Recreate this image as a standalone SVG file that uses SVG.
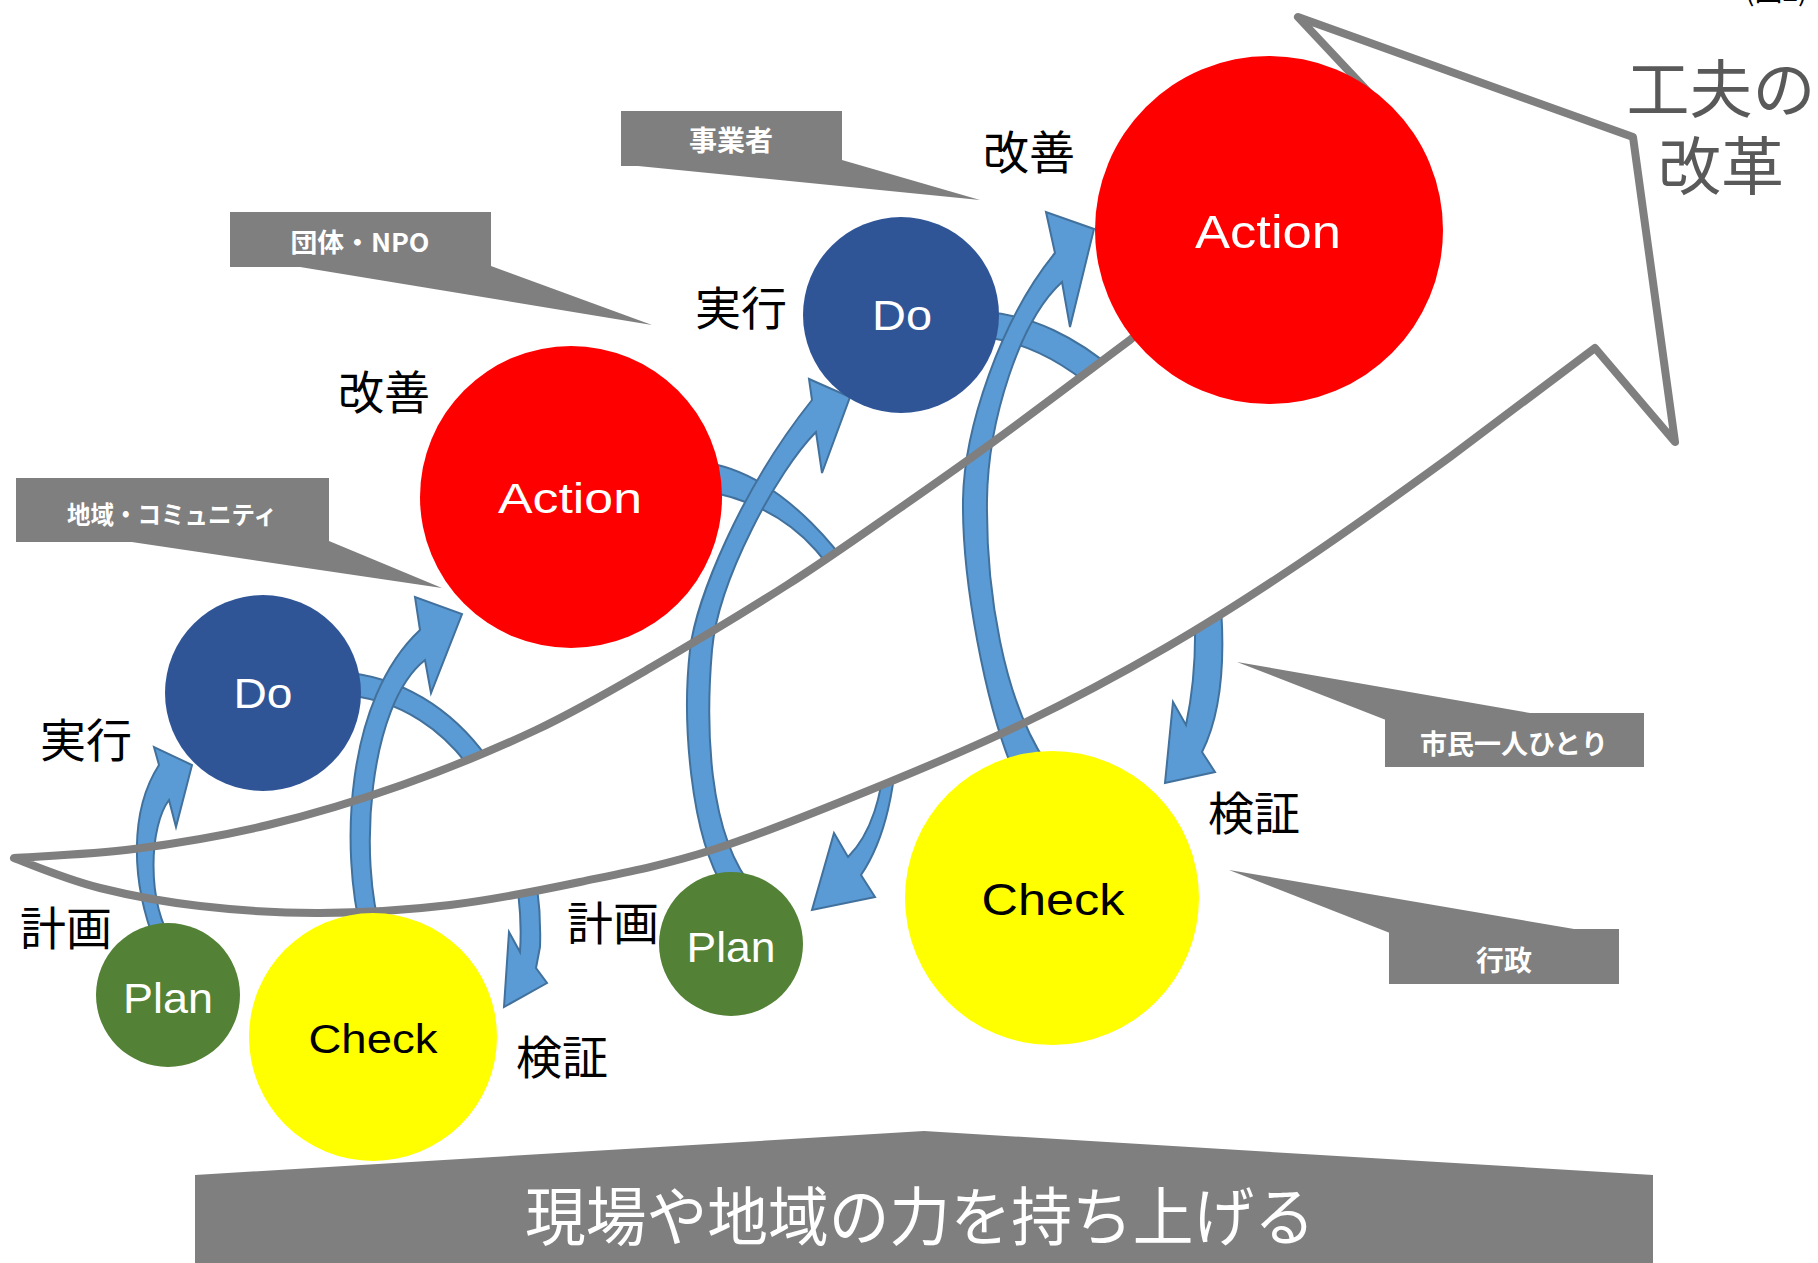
<svg xmlns="http://www.w3.org/2000/svg" width="1818" height="1263" viewBox="0 0 1818 1263">
<style>
.lbl{font-family:"Noto Sans CJK JP","Noto Sans CJK SC",sans-serif;font-size:46px;fill:#000}
.nt{font-family:"Liberation Sans",Arial,sans-serif;text-anchor:middle}
.call{font-family:"Noto Sans CJK JP","Noto Sans CJK SC",sans-serif;font-weight:700;fill:#fff;text-anchor:middle}
.box{fill:#7F7F7F}
.arw{fill:#5B9BD5;stroke:#41719C;stroke-width:2;stroke-linejoin:miter}
.big{stroke:#7F7F7F;stroke-width:8;stroke-linejoin:round}
.plan{fill:#538135}.do{fill:#2F5597}.act{fill:#FF0000}.chk{fill:#FFFF00}
</style>
<defs>
<path id="bigArrow" d="M14,858 C34,856.5 91.7,854.5 134,849 C176.3,843.5 223.3,835.7 268,825 C312.7,814.3 357.3,800.8 402,785 C446.7,769.2 494.7,749.5 536,730 C577.3,710.5 608.2,692.2 650,668 C691.8,643.8 745.3,611.7 787,585 C828.7,558.3 864.5,532.7 900,508 C935.5,483.3 961.7,465 1000,437 C1038.3,409 1086.7,372.3 1130,340 L1390,115 L1298,17 L1633,137 L1675,442 L1595,348 L1450,457 C1400.8,492.8 1347.2,531.3 1300,563 C1252.8,594.7 1213,620.3 1167,647 C1121,673.7 1073.5,699.2 1024,723 C974.5,746.8 922,768.8 870,790 C818,811.2 760.3,834.7 712,850 C663.7,865.3 623.7,872.8 580,882 C536.3,891.2 493.3,899.8 450,905 C406.7,910.2 361.7,912.8 320,913 C278.3,913.2 236.7,910.2 200,906 C163.3,901.8 131,895.7 100,888 C69,880.3 42.7,869.3 14,858 Z"/>
</defs>
<rect width="1818" height="1263" fill="#fff"/>

<g id="callouts">
  <g id="callout-community">
    <polygon class="box" points="125,541 442,588 329,541"/>
    <rect class="box" x="16" y="478" width="313" height="64"/>
    <text class="call" x="172" y="524" font-size="25" textLength="210" lengthAdjust="spacingAndGlyphs">地域・コミュニティ</text>
  </g>
  <g id="callout-npo">
    <polygon class="box" points="294,266 652,325 491,266"/>
    <rect class="box" x="230" y="212" width="261" height="55"/>
    <text class="call" x="360" y="252" font-size="26" textLength="139" lengthAdjust="spacingAndGlyphs">団体・NPO</text>
  </g>
  <g id="callout-business">
    <polygon class="box" points="628,165 980,200 842,160"/>
    <rect class="box" x="621" y="111" width="221" height="55"/>
    <text class="call" x="731" y="151" font-size="28">事業者</text>
  </g>
  <g id="callout-citizen">
    <polygon class="box" points="1237,662 1386,720 1536,714"/>
    <rect class="box" x="1385" y="713" width="259" height="54"/>
    <text class="call" x="1514" y="754" font-size="27">市民一人ひとり</text>
  </g>
  <g id="callout-gov">
    <polygon class="box" points="1229,870 1390,933 1580,930"/>
    <rect class="box" x="1389" y="929" width="230" height="55"/>
    <text class="call" x="1504" y="971" font-size="28">行政</text>
  </g>
</g>

<g id="connectors-behind">
  <path class="arw" d="M340,672 C460,680 545,800 540,947 L536,968 L547,983 L504,1007 L509,932 L520,952 C528,830 460,700 340,695 Z"/>
  <path class="arw" d="M700,462 C780,470 855,560 885,630 C898,660 912,800 861,875 L875,897 L812,910 L834,833 L848,857 C895,810 893,700 865,640 C850,606 825,510 700,490 Z"/>
  <path class="arw" d="M985,312 C1080,318 1165,405 1195,480 C1220,545 1238,680 1202,752 L1215,772 L1165,783 L1173,702 L1186,725 C1200,660 1200,550 1170,490 C1150,440 1080,350 985,337 Z"/>
</g>

<g id="big-arrow-fill"><use href="#bigArrow" fill="#fff"/></g>

<g id="connectors-front">
  <path class="arw" d="M156,945 C130,880 130,810 159,765 L154,747 L192,765 L176,827 L169,800 C150,825 145,900 174,945 Z"/>
  <path class="arw" d="M362,935 C340,850 345,700 420,630 L415,597 L462,614 L431,693 L425,660 C368,705 358,860 382,935 Z"/>
  <path class="arw" d="M725,890 C690,835 682,720 690,650 C696,600 740,490 812,400 L809,379 L850,397 L822,473 L816,432 C778,470 718,580 712,650 C706,720 706,835 755,890 Z"/>
  <path class="arw" d="M1015,775 C985,705 962,580 963,500 C964,430 1000,320 1055,253 L1046,212 L1094,229 L1070,327 L1062,282 C1020,320 988,420 987,500 C986,580 1000,705 1055,775 Z"/>
</g>

<g id="big-arrow-outline"><use href="#bigArrow" fill="none" class="big"/></g>

<g id="node-plan1"><circle class="plan" cx="168" cy="995" r="72"/><text class="nt" x="168" y="1013" font-size="42" fill="#fff" textLength="90" lengthAdjust="spacingAndGlyphs">Plan</text></g>
<g id="node-check1"><circle class="chk" cx="373" cy="1037" r="124"/><text class="nt" x="373" y="1053" font-size="40" fill="#000" textLength="129" lengthAdjust="spacingAndGlyphs">Check</text></g>
<g id="node-do1"><circle class="do" cx="263" cy="693" r="98"/><text class="nt" x="263" y="708" font-size="42" fill="#fff" textLength="59" lengthAdjust="spacingAndGlyphs">Do</text></g>
<g id="node-action1"><circle class="act" cx="571" cy="497" r="151"/><text class="nt" x="570" y="513" font-size="43" fill="#fff" textLength="144" lengthAdjust="spacingAndGlyphs">Action</text></g>
<g id="node-plan2"><circle class="plan" cx="731" cy="944" r="72"/><text class="nt" x="731" y="962" font-size="42" fill="#fff" textLength="89" lengthAdjust="spacingAndGlyphs">Plan</text></g>
<g id="node-do2"><circle class="do" cx="901" cy="315" r="98"/><text class="nt" x="902" y="330" font-size="42" fill="#fff" textLength="60" lengthAdjust="spacingAndGlyphs">Do</text></g>
<g id="node-check2"><circle class="chk" cx="1052" cy="898" r="147"/><text class="nt" x="1053" y="915" font-size="45" fill="#000" textLength="143" lengthAdjust="spacingAndGlyphs">Check</text></g>
<g id="node-action2"><circle class="act" cx="1269" cy="230" r="174"/><text class="nt" x="1268" y="248" font-size="46" fill="#fff" textLength="146" lengthAdjust="spacingAndGlyphs">Action</text></g>

<g id="labels">
  <text class="lbl" x="20" y="945">計画</text>
  <text class="lbl" x="40" y="757">実行</text>
  <text class="lbl" x="338" y="409">改善</text>
  <text class="lbl" x="695" y="325">実行</text>
  <text class="lbl" x="983" y="169">改善</text>
  <text class="lbl" x="567" y="940">計画</text>
  <text class="lbl" x="516" y="1074">検証</text>
  <text class="lbl" x="1208" y="830">検証</text>
  <text font-family="Noto Sans CJK JP, sans-serif" font-size="63" fill="#595959" text-anchor="middle"><tspan x="1721" y="112">工夫の</tspan><tspan x="1721" y="189">改革</tspan></text>
  <text x="1745" y="1" font-family="Noto Sans CJK JP, sans-serif" font-size="28" fill="#000">(図2)</text>
</g>

<g id="banner">
  <polygon class="box" points="195,1175 924,1131 1653,1175 1653,1263 195,1263"/>
  <text x="920" y="1240" font-family="Noto Sans CJK JP, sans-serif" font-size="64" fill="#fff" text-anchor="middle" textLength="790" lengthAdjust="spacingAndGlyphs">現場や地域の力を持ち上げる</text>
</g>
</svg>
